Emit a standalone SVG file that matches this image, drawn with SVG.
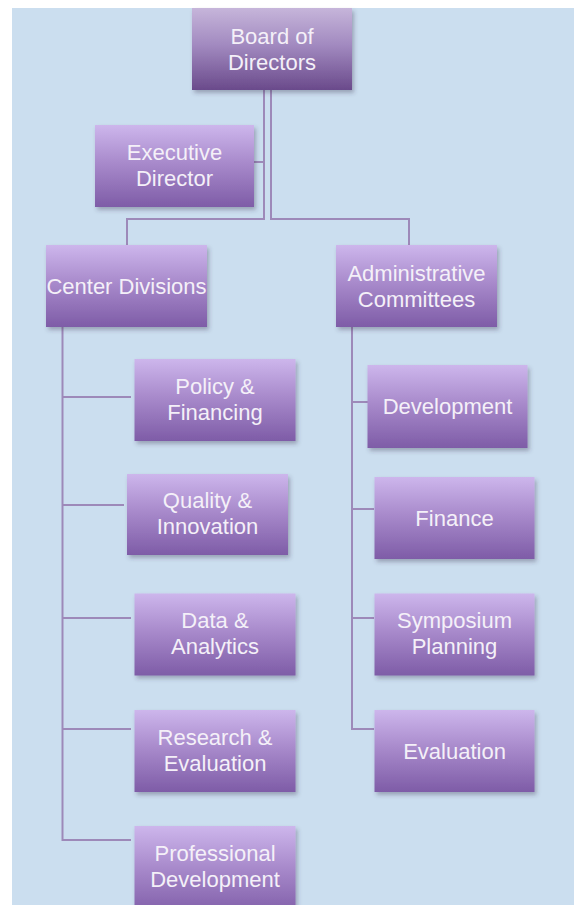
<svg xmlns="http://www.w3.org/2000/svg" width="574" height="905" viewBox="0 0 574 905">
<defs>
<linearGradient id="g" x1="0" y1="0" x2="0" y2="1">
<stop offset="0" stop-color="#cdb6ec"/>
<stop offset="0.45" stop-color="#a98bcc"/>
<stop offset="1" stop-color="#7e5ca7"/>
</linearGradient>
<linearGradient id="gb" x1="0" y1="0" x2="0" y2="1">
<stop offset="0" stop-color="#c6b5da"/>
<stop offset="0.45" stop-color="#a28ac0"/>
<stop offset="1" stop-color="#6a4a8b"/>
</linearGradient>
<filter id="sh" x="-10%" y="-10%" width="125%" height="130%">
<feDropShadow dx="2" dy="3" stdDeviation="2" flood-color="#3a3050" flood-opacity="0.35"/>
</filter>
<style>
.box{fill:url(#g);filter:url(#sh)}
.board{fill:url(#gb);filter:url(#sh)}
.t{font-family:"Liberation Sans",Arial,sans-serif;font-size:22px;fill:#f4f0f8;text-anchor:middle}
.c{fill:none;stroke:#9d89b9;stroke-width:2}
</style>
</defs>
<rect x="0" y="0" width="574" height="905" fill="#ffffff"/>
<rect x="12" y="8" width="562" height="897" fill="#cbdeef"/>
<g id="connectors">
<path class="c" d="M264,90 V219 H127 V245"/>
<path class="c" d="M254,162 H264"/>
<path class="c" d="M271,90 V219 H409 V245"/>
<path class="c" d="M62.5,327 V840 H131"/>
<path class="c" d="M62.5,397 H131"/>
<path class="c" d="M62.5,505 H124"/>
<path class="c" d="M62.5,618 H131"/>
<path class="c" d="M62.5,729 H131"/>
<path class="c" d="M352,327 V729 H374"/>
<path class="c" d="M352,402 H368"/>
<path class="c" d="M352,509 H374"/>
<path class="c" d="M352,618 H374"/>
</g>
<g id="board"><rect class="board" x="192" y="8" width="160" height="82"/><text class="t" x="272" y="43.5">Board of</text><text class="t" x="272" y="69.5">Directors</text></g>
<g id="executive"><rect class="box" x="95" y="125" width="159" height="82"/><text class="t" x="174.5" y="159.5">Executive</text><text class="t" x="174.5" y="185.5">Director</text></g>
<g id="center"><rect class="box" x="46" y="245" width="161" height="82"/><text class="t" x="126.5" y="293.5">Center Divisions</text></g>
<g id="admin"><rect class="box" x="336" y="245" width="161" height="82"/><text class="t" x="416.5" y="280.5">Administrative</text><text class="t" x="416.5" y="306.5">Committees</text></g>
<g id="policy"><rect class="box" x="134.5" y="359" width="161" height="82"/><text class="t" x="215" y="393.5">Policy &amp;</text><text class="t" x="215" y="419.5">Financing</text></g>
<g id="quality"><rect class="box" x="127" y="474" width="161" height="81"/><text class="t" x="207.5" y="508">Quality &amp;</text><text class="t" x="207.5" y="534">Innovation</text></g>
<g id="data"><rect class="box" x="134.5" y="593.5" width="161" height="82"/><text class="t" x="215" y="628">Data &amp;</text><text class="t" x="215" y="654">Analytics</text></g>
<g id="research"><rect class="box" x="134.5" y="710" width="161" height="82"/><text class="t" x="215" y="744.5">Research &amp;</text><text class="t" x="215" y="770.5">Evaluation</text></g>
<g id="professional"><rect class="box" x="134.5" y="826" width="161" height="90"/><text class="t" x="215" y="860.5">Professional</text><text class="t" x="215" y="886.5">Development</text></g>
<g id="development"><rect class="box" x="367.5" y="365" width="160" height="83"/><text class="t" x="447.5" y="414">Development</text></g>
<g id="finance"><rect class="box" x="374.5" y="477" width="160" height="82"/><text class="t" x="454.5" y="525.5">Finance</text></g>
<g id="symposium"><rect class="box" x="374.5" y="593.5" width="160" height="82"/><text class="t" x="454.5" y="628">Symposium</text><text class="t" x="454.5" y="654">Planning</text></g>
<g id="evaluation"><rect class="box" x="374.5" y="710" width="160" height="82"/><text class="t" x="454.5" y="758.5">Evaluation</text></g>
</svg>
